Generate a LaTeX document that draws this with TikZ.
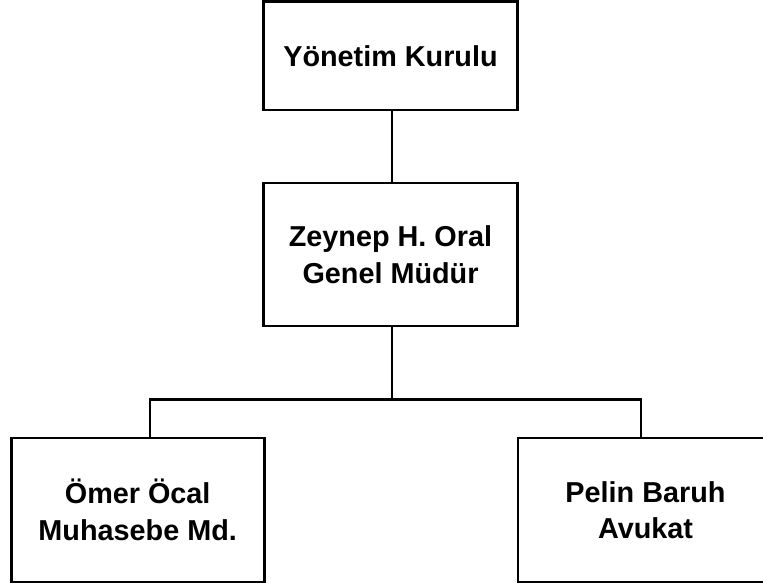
\documentclass[tikz,border=0pt]{standalone}
\usepackage{fontspec}
\setmainfont{Liberation Sans}
\begin{document}
\begin{tikzpicture}[x=1pt,y=-1pt,
  orgbox/.style={draw,line width=2.8pt,rectangle,inner sep=0pt,outer sep=0pt,
    align=center,font=\fontsize{28.8}{36.4}\selectfont\bfseries},
  link/.style={line width=2.8pt}]
\useasboundingbox (0,0) rectangle (763,587);
\clip (0,0) rectangle (763,587);
\fill[white] (0,0) rectangle (763,587);
\node[orgbox,minimum width=254pt,minimum height=108.5pt] (top) at (390.5,55.75) {Yönetim Kurulu};
\node[orgbox,minimum width=254pt,minimum height=143pt] (mid) at (390.5,254.5) {Zeynep H. Oral\\Genel Müdür};
\node[orgbox,minimum width=253pt,minimum height=144pt] (left) at (137.7,510) {Ömer Öcal\\Muhasebe Md.};
\node[orgbox,minimum width=255pt,minimum height=144pt] (right) at (645.5,510) {Pelin Baruh\\Avukat};
\coordinate (bus) at (392,399.5);
\coordinate (bl) at (150,399.5);
\coordinate (br) at (641,399.5);
\draw[link] (top.south -| bus) -- (mid.north -| bus);
\draw[link] (mid.south -| bus) -- (bus);
\draw[link] (bl |- left.north) -- (bl) -- (br) -- (br |- right.north);
\end{tikzpicture}
\end{document}
